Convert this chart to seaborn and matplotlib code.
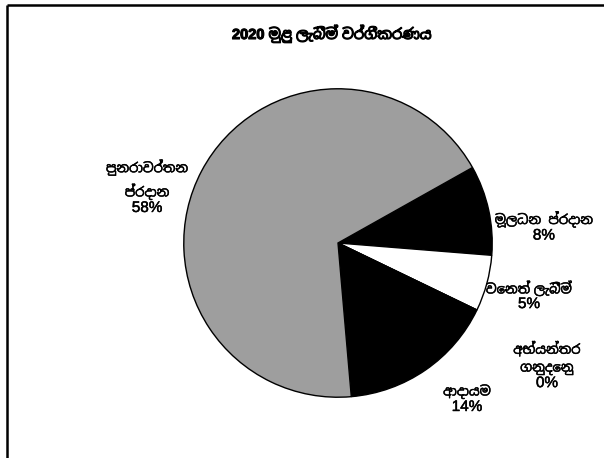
import matplotlib
matplotlib.use("Agg")
import matplotlib.pyplot as plt
import matplotlib.patheffects as pe
from matplotlib import font_manager, ft2font
from matplotlib.lines import Line2D
import seaborn as sns

# Receipt categories (clockwise from the upper right), share in percent
categories = ["මූලධන  ප්රදාන", "වෙනත් ලැබීම්", "අභ්යන්තර\nගනුදෙනු", "ආදායම", "පුනරාවර්තන\nප්රදාන"]
shares = [8, 5, 0, 14, 58]
colors = ["#000000", "#ffffff", "#ffffff", "#000000", "#9e9e9e"]
title = "2020 මුළු ලැබීම් වර්ගීකරණය"

# Percent-line anchor of each label, in axes-fraction coordinates
label_pos = [(1.164, 0.524), (1.116, 0.303), (1.174, 0.048), (0.916, -0.029), (-0.116, 0.613)]


def sinhala_families():
    found = []
    for f in font_manager.fontManager.ttflist:
        try:
            if 0x0D9A in ft2font.FT2Font(f.fname).get_charmap():
                found.append(f.name)
        except Exception:
            continue
    found = list(dict.fromkeys(found))
    # prefer proportional sans faces
    found.sort(key=lambda n: (("Mono" in n), ("Sans" not in n)))
    return found


sns.set_theme(style="white")
plt.rcParams["font.family"] = ["Liberation Sans"] + sinhala_families() + ["DejaVu Sans"]

fig = plt.figure(figsize=(6.04, 4.58), dpi=100)
fig.patch.set_facecolor("white")

# frame edges (left and top)
fig.add_artist(Line2D([7 / 604, 7 / 604], [0, 1 - 5 / 458], transform=fig.transFigure,
                      color="black", linewidth=1.8, solid_capstyle="butt"))
fig.add_artist(Line2D([7 / 604, 1], [1 - 5 / 458, 1 - 5 / 458], transform=fig.transFigure,
                      color="black", linewidth=1.8, solid_capstyle="butt"))

ax = fig.add_axes([183 / 604, 60 / 458, 310 / 604, 310 / 458])
wedges, _ = ax.pie(shares, colors=colors, startangle=29.3, counterclock=False,
                   radius=1.0, wedgeprops=dict(edgecolor="black", linewidth=1.0))
ax.set_xlim(-1.005, 1.005)
ax.set_ylim(-1.005, 1.005)
ax.set_aspect("auto")
ax.axis("off")

heavy = [pe.withStroke(linewidth=0.35, foreground="black")]
for name, val, (x, y) in zip(categories, shares, label_pos):
    ax.annotate(f"{val}%", xy=(x, y), xycoords="axes fraction", ha="center",
                va="center", fontsize=11, color="black", path_effects=heavy,
                annotation_clip=False)
    ax.annotate(name, xy=(x, y), xycoords="axes fraction", xytext=(0, 5.5),
                textcoords="offset points", ha="center", va="bottom",
                fontsize=9.5, color="black", linespacing=1.65,
                path_effects=heavy, annotation_clip=False)

fig.text(332 / 604, 1 - 34 / 458, title, ha="center", va="center",
         fontsize=10.5, fontweight="bold", color="black",
         path_effects=[pe.withStroke(linewidth=0.8, foreground="black")])

fig.savefig("out.png", dpi=100, facecolor="white")
